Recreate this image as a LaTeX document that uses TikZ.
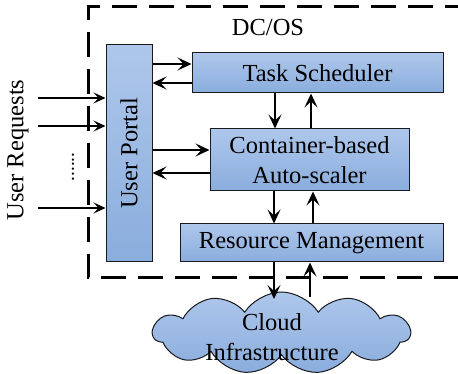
\documentclass[tikz,border=0pt]{standalone}
\usepackage{fontspec}
\setmainfont{Liberation Serif}
\usetikzlibrary{arrows.meta,shapes.symbols}

\definecolor{boxtop}{RGB}{174,199,235}
\definecolor{boxbot}{RGB}{138,173,221}
\definecolor{boxline}{RGB}{25,25,30}

\tikzset{
  block/.style={draw=boxline, line width=1pt, top color=boxtop, bottom color=boxbot,
    inner sep=0pt, anchor=center, align=center, font=\fontsize{24.5}{30}\selectfont},
  flow/.style={line width=2.3pt, -{Stealth[length=14pt,width=13pt,inset=6pt]}},
  request/.style={line width=1.2pt, -{Stealth[length=12pt,width=11pt,inset=5pt]}},
  label/.style={font=\fontsize{24.5}{30}\selectfont, inner sep=0pt},
  boundary/.style={line width=3pt, dash pattern=on 25pt off 12pt}
}

\begin{document}
\begin{tikzpicture}[x=1pt,y=-1pt]
\useasboundingbox (0,0) rectangle (458,374);
\clip (0,0) rectangle (458,374);

% DC/OS boundary (right side runs past the edge)
\draw[boundary] (470,7) -- (88,7) -- (88,278) -- (470,278);
\node[label] (dcos) at (268,28) {DC/OS};

% components
\node[block, minimum width=46pt, minimum height=217pt] (portal) at (129,153.5) {};
\node[label, rotate=90] (portaltext) at (portal.center) {User Portal};
\node[block, minimum width=251pt, minimum height=40pt] (task) at (317.5,73) {Task Scheduler};
\node[block, minimum width=199pt, minimum height=62pt] (scaler) at (309.5,160) {Container-based\\Auto-scaler};
\node[block, minimum width=263pt, minimum height=38pt] (rm) at (311.5,243) {Resource Management};

% cloud
\node[cloud, cloud puffs=11, cloud puff arc=115, cloud ignores aspect,
      draw=boxline, line width=1pt, top color=boxtop, bottom color=boxbot,
      minimum width=257pt, minimum height=82pt, inner sep=0pt] (cloud) at (281.5,333) {};
\node[label, align=center] (cloudtext) at (272,337) {Cloud\\Infrastructure};

% portal <-> scheduler / auto-scaler
\draw[flow] (portal.east |- 0,64) -- (task.west |- 0,64);
\draw[flow] (task.west |- 0,83) -- (portal.east |- 0,83);
\draw[flow] (portal.east |- 0,150) -- (scaler.west |- 0,150);
\draw[flow] (scaler.west |- 0,173) -- (portal.east |- 0,173);

% vertical exchanges
\draw[flow] (task.south -| 275,0) -- (scaler.north -| 275,0);
\draw[flow] (scaler.north -| 311,0) -- (task.south -| 311,0);
\draw[flow] (scaler.south -| 274,0) -- (rm.north -| 274,0);
\draw[flow] (rm.north -| 313,0) -- (scaler.south -| 313,0);
\coordinate (cloudin) at (274,299);
\coordinate (cloudout) at (310,297);
\draw[flow] (rm.south -| cloudin) -- (cloudin);
\draw[flow] (cloudout) -- (rm.south -| cloudout);

% incoming user requests
\coordinate (r1) at (38,98);
\coordinate (r2) at (38,126);
\coordinate (r3) at (38,208);
\draw[request] (r1) -- (portal.west |- r1);
\draw[request] (r2) -- (portal.west |- r2);
\draw[request] (r3) -- (portal.west |- r3);
\node[label, rotate=90, font=\fontsize{19}{19}\selectfont] (dots) at (73,167) {......};
\node[label, rotate=90] (requests) at (18,150) {User Requests};
\end{tikzpicture}
\end{document}
